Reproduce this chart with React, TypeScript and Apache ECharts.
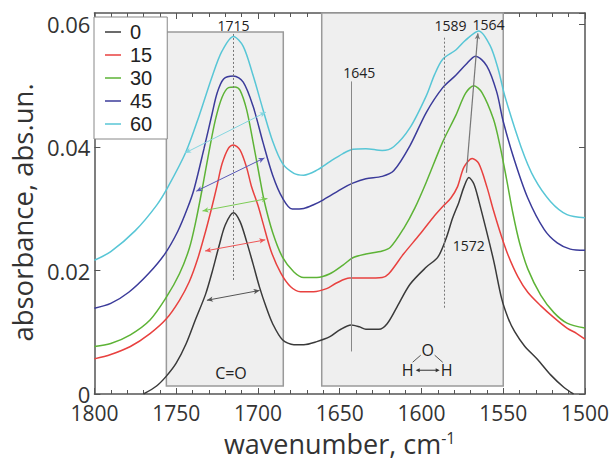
import React, { useEffect, useRef } from 'react';
import * as echarts from 'echarts';

const seriesNames = ['0', '15', '30', '45', '60'];
const seriesColors = ['#3a3a3a', '#e8413f', '#5db336', '#3b3b9a', '#58c6d6'];
const arrowColors = ['#555555', '#ee5555', '#7ccc55', '#5a5ab8', '#86d6e0'];

const xTicks = [1500, 1550, 1600, 1650, 1700, 1750, 1800];
const yTicks = [0, 0.02, 0.04, 0.06];

const s0: [number, number][] = [
  [1770, 0], [1762, 0.0013], [1756, 0.0029], [1750, 0.005], [1744, 0.0081], [1738, 0.0122],
  [1732, 0.0162], [1728, 0.0198], [1724, 0.0238], [1720, 0.0274], [1715, 0.0294], [1711, 0.028],
  [1707, 0.0248], [1703, 0.0211], [1699, 0.0173], [1695, 0.0141], [1691, 0.0114], [1685, 0.0088],
  [1678, 0.008], [1672, 0.008], [1664, 0.0085], [1656, 0.0093], [1650, 0.0104], [1643, 0.0112],
  [1638, 0.0109], [1634, 0.0105], [1626, 0.0105], [1621, 0.0114], [1615, 0.0141], [1607, 0.0178],
  [1597, 0.0206], [1590, 0.0222], [1585, 0.0252], [1581, 0.0285], [1577, 0.0312], [1574, 0.0336],
  [1571, 0.0351], [1568, 0.0341], [1565, 0.0314], [1556, 0.0218], [1551, 0.0155], [1547, 0.0123],
  [1543, 0.0101], [1537, 0.0078], [1529, 0.0056], [1521, 0.0031], [1513, 0.0011], [1507, 0],
];
const s15: [number, number][] = [
  [1800, 0.0057], [1790, 0.0064], [1778, 0.0077], [1766, 0.0098], [1756, 0.0122], [1748, 0.0152],
  [1742, 0.0182], [1737, 0.0218], [1732, 0.0264], [1728, 0.0305], [1725, 0.0338], [1722, 0.0373],
  [1718, 0.0399], [1715, 0.0404], [1711, 0.0396], [1707, 0.0368], [1704, 0.0337], [1700, 0.0306],
  [1697, 0.0278], [1692, 0.0232], [1686, 0.0196], [1680, 0.0174], [1674, 0.0166], [1666, 0.0166],
  [1658, 0.0171], [1652, 0.018], [1644, 0.0188], [1634, 0.0188], [1624, 0.0189], [1620, 0.0195],
  [1611, 0.0227], [1601, 0.0259], [1593, 0.0286], [1587, 0.0304], [1582, 0.0318], [1578, 0.0336],
  [1574, 0.0368], [1569, 0.0382], [1565, 0.0374], [1560, 0.0336], [1556, 0.0298], [1551, 0.0255],
  [1547, 0.0225], [1541, 0.019], [1535, 0.0165], [1527, 0.0143], [1519, 0.0124], [1511, 0.0107],
  [1505, 0.0098], [1500, 0.0089],
];
const s30: [number, number][] = [
  [1800, 0.0077], [1790, 0.0082], [1778, 0.0096], [1766, 0.012], [1756, 0.0157], [1748, 0.0195],
  [1742, 0.0236], [1738, 0.028], [1734, 0.0334], [1730, 0.0392], [1726, 0.0445], [1722, 0.0481],
  [1718, 0.0497], [1714, 0.0498], [1711, 0.0493], [1707, 0.0462], [1703, 0.0409], [1699, 0.0352],
  [1696, 0.0311], [1691, 0.0262], [1685, 0.0222], [1678, 0.0198], [1672, 0.0189], [1664, 0.0189],
  [1656, 0.0195], [1648, 0.0209], [1642, 0.0221], [1634, 0.0227], [1624, 0.0232], [1619, 0.0238],
  [1611, 0.0268], [1604, 0.0302], [1597, 0.0344], [1587, 0.0409], [1579, 0.0452], [1573, 0.0488],
  [1568, 0.05], [1563, 0.0489], [1556, 0.0446], [1552, 0.0403], [1548, 0.0349], [1544, 0.0292],
  [1540, 0.0245], [1535, 0.0203], [1527, 0.016], [1519, 0.0132], [1511, 0.0115], [1500, 0.0107],
];
const s45: [number, number][] = [
  [1800, 0.0139], [1790, 0.0147], [1779, 0.0165], [1767, 0.0195], [1757, 0.0227], [1749, 0.0264],
  [1743, 0.0302], [1739, 0.0333], [1733, 0.0398], [1728, 0.0455], [1725, 0.0488], [1721, 0.0511],
  [1715, 0.0516], [1709, 0.0506], [1703, 0.0467], [1697, 0.0409], [1691, 0.0355], [1685, 0.0318],
  [1679, 0.03], [1672, 0.0301], [1666, 0.0307], [1660, 0.0315], [1648, 0.0334], [1642, 0.0342],
  [1634, 0.0349], [1624, 0.0353], [1617, 0.0362], [1607, 0.0403], [1597, 0.0457], [1587, 0.0497],
  [1579, 0.0517], [1573, 0.0534], [1567, 0.0548], [1560, 0.0532], [1554, 0.049], [1550, 0.0442],
  [1543, 0.0378], [1535, 0.0318], [1525, 0.0267], [1517, 0.0245], [1509, 0.0235], [1500, 0.0233],
];
const s60: [number, number][] = [
  [1800, 0.0217], [1790, 0.0231], [1775, 0.0265], [1762, 0.0306], [1755, 0.0336], [1744, 0.0393],
  [1736, 0.0451], [1728, 0.0515], [1722, 0.0556], [1715, 0.058], [1709, 0.0564], [1703, 0.0517],
  [1697, 0.0462], [1691, 0.041], [1685, 0.0374], [1678, 0.0358], [1672, 0.0355], [1664, 0.0363],
  [1656, 0.0377], [1648, 0.039], [1642, 0.0397], [1634, 0.0398], [1624, 0.0395], [1617, 0.0401],
  [1607, 0.0432], [1597, 0.0484], [1592, 0.0518], [1587, 0.0543], [1579, 0.0558], [1573, 0.0574],
  [1565, 0.0589], [1558, 0.0565], [1553, 0.0526], [1549, 0.0483], [1539, 0.04], [1531, 0.035],
  [1521, 0.0312], [1511, 0.0291], [1500, 0.0286],
];
const seriesData = [s0, s15, s30, s45, s60];

// FWHM double arrows in the C=O band: [x1, y1, x2, y2] per series
const fwhmArrows: [number, number, number, number][] = [
  [1731.2, 0.0152, 1699, 0.0168],
  [1732.3, 0.0232, 1695.5, 0.025],
  [1733.9, 0.0297, 1694.2, 0.0317],
  [1737.7, 0.0329, 1696.0, 0.0383],
  [1744.5, 0.0391, 1695.2, 0.0457],
];

// shaded bands [xFrom, yFrom, xTo, yTo]
const bands: [number, number, number, number][] = [
  [1756, 0.0013, 1684.5, 0.0587],
  [1661, 0.0013, 1550, 0.0618],
];

// vertical marker lines [x, yFrom, yTo, dashed]
const markers: [number, number, number, boolean][] = [
  [1715, 0.0185, 0.0586, true],
  [1642.7, 0.0069, 0.0507, false],
  [1586.1, 0.014, 0.0581, true],
];

const peakLabels: { text: string; x: number; y: number }[] = [
  { text: '1715', x: 1715, y: 0.0598 },
  { text: '1645', x: 1638.1, y: 0.0521 },
  { text: '1589', x: 1582.3, y: 0.0597 },
  { text: '1564', x: 1559.0, y: 0.06 },
  { text: '1572', x: 1571.1, y: 0.0241 },
];

const FONT = "'Open Sans', 'DejaVu Sans', sans-serif";
const LEGEND_FONT = "'Liberation Sans', 'Open Sans', sans-serif";

export default function App() {
  const ref = useRef<HTMLDivElement>(null);
  useEffect(() => {
    if (!ref.current) return;
    const chart = echarts.init(ref.current, undefined, { renderer: 'svg' });
    const axisColor = '#555';
    const xAxisBase: any = {
      type: 'value',
      min: xTicks[0],
      max: xTicks[xTicks.length - 1],
      interval: 50,
      inverse: true,
      axisLine: { show: true, onZero: false, lineStyle: { color: axisColor, width: 1.5 } },
      axisTick: { show: true, inside: true, length: 6, lineStyle: { color: axisColor, width: 1 } },
      minorTick: { show: true, splitNumber: 5, length: 4, lineStyle: { color: axisColor, width: 1 } },
      splitLine: { show: false },
      minorSplitLine: { show: false },
    };
    const yAxisBase: any = {
      type: 'value',
      min: yTicks[0],
      max: 0.0618,
      interval: 0.02,
      axisLine: { show: true, onZero: false, lineStyle: { color: axisColor, width: 1.5 } },
      axisTick: { show: true, inside: true, length: 6, lineStyle: { color: axisColor, width: 1 } },
      splitLine: { show: false },
    };

    const markLineData: any[] = [];
    markers.forEach(([x, y1, y2, dashed]) => {
      markLineData.push([
        { coord: [x, y1], symbol: 'none', lineStyle: { color: dashed ? '#777' : '#888', width: 1, type: dashed ? [2, 2] : 'solid' } },
        { coord: [x, y2], symbol: 'none' },
      ]);
    });
    fwhmArrows.forEach(([x1, y1, x2, y2], i) => {
      markLineData.push([
        { coord: [x1, y1], symbol: 'arrow', symbolSize: [4, 6], lineStyle: { color: arrowColors[i], width: 1, type: 'solid' } },
        { coord: [x2, y2], symbol: 'arrow', symbolSize: [4, 6] },
      ]);
    });
    markLineData.push([
      { coord: [1572.5, 0.0359], symbol: 'none', lineStyle: { color: '#777', width: 1.2, type: 'solid' } },
      { coord: [1565.5, 0.0585], symbol: 'arrow', symbolSize: [4, 6] },
    ]);

    const option: any = {
      animation: false,
      textStyle: { fontFamily: FONT },
      grid: { left: 89, right: 29, top: 13, bottom: 64 },
      legend: {
        data: seriesNames,
        orient: 'vertical',
        left: 94,
        top: 17,
        padding: [5, 15, 5, 11],
        itemGap: 3,
        itemWidth: 16,
        itemHeight: 1.5,
        icon: 'rect',
        backgroundColor: '#fff',
        borderColor: '#888',
        borderWidth: 1,
        textStyle: { fontSize: 20, color: '#222', lineHeight: 20, padding: [0, 0, 0, 4], fontFamily: LEGEND_FONT },
      },
      xAxis: [
        {
          ...xAxisBase,
          position: 'bottom',
          axisLabel: {
            fontSize: 21,
            color: '#333',
            margin: 11,
            lineHeight: 16,
            fontFamily: FONT,
            formatter: (v: number) => String(Math.round(v)),
          },
          name: 'wavenumber, cm{sup|-1}',
          nameLocation: 'middle',
          nameGap: 36,
          nameTextStyle: {
            fontSize: 27,
            color: '#333',
            fontFamily: FONT,
            rich: { sup: { fontSize: 16, verticalAlign: 'top', color: '#333', fontFamily: FONT, padding: [0, 0, 11, 0] } },
          },
        },
        { ...xAxisBase, position: 'top', axisLabel: { show: false } },
      ],
      yAxis: [
        {
          ...yAxisBase,
          position: 'left',
          axisLabel: {
            fontSize: 22,
            color: '#333',
            margin: 4,
            lineHeight: 16,
            fontFamily: FONT,
            showMaxLabel: false,
            formatter: (v: number) => (v === 0 ? '0' : v.toFixed(2)),
          },
          name: 'absorbance, abs.un.',
          nameLocation: 'middle',
          nameGap: 46,
          nameTextStyle: { fontSize: 27.5, color: '#333', fontFamily: FONT, padding: [0, 18, 0, 0] },
        },
        { ...yAxisBase, position: 'right', axisLabel: { show: false } },
      ],
      series: [
        {
          type: 'line',
          name: 'bands',
          data: [],
          z: 1,
          silent: true,
          markArea: {
            silent: true,
            itemStyle: { color: '#efefef', borderColor: '#9a9a9a', borderWidth: 1.5 },
            data: bands.map(([x1, y1, x2, y2]) => [{ coord: [x1, y1] }, { coord: [x2, y2] }]),
          },
        },
        ...seriesData.map((d, i) => ({
          type: 'line',
          name: seriesNames[i],
          data: d,
          color: seriesColors[i],
          showSymbol: false,
          symbol: 'none',
          smooth: 0.3,
          lineStyle: { width: 1.5, color: seriesColors[i] },
          z: 3,
        })),
        {
          type: 'line',
          name: 'marks',
          data: [],
          z: 4,
          silent: true,
          markLine: {
            silent: true,
            animation: false,
            symbol: ['none', 'none'],
            label: { show: false },
            data: markLineData,
          },
        },
      ],
    };
    chart.setOption(option);

    const px = (x: number, y: number) => chart.convertToPixel({ xAxisIndex: 0, yAxisIndex: 0 }, [x, y]) as number[];
    const textStyle = (text: string, size: number) => ({
      text,
      fontSize: size,
      fill: '#222',
      fontFamily: FONT,
      align: 'center',
      verticalAlign: 'middle',
    });
    const graphics: any[] = peakLabels.map((l) => {
      const p = px(l.x, l.y);
      return { type: 'text', x: p[0], y: p[1], z: 100, style: textStyle(l.text, 14) };
    });
    const co = px(1716.5, 0.0034);
    graphics.push({ type: 'text', x: co[0], y: co[1], z: 100, style: textStyle('C=O', 16) });
    const o = px(1596.2, 0.0071);
    const ox = o[0];
    const oy = o[1];
    const lineSt = { stroke: '#555', lineWidth: 1 };
    graphics.push(
      { type: 'text', x: ox, y: oy, z: 100, style: textStyle('O', 16) },
      { type: 'text', x: ox - 20, y: oy + 20, z: 100, style: textStyle('H', 16) },
      { type: 'text', x: ox + 19, y: oy + 20, z: 100, style: textStyle('H', 16) },
      { type: 'line', z: 100, shape: { x1: ox - 15, y1: oy + 12, x2: ox - 7, y2: oy + 5 }, style: lineSt },
      { type: 'line', z: 100, shape: { x1: ox + 7, y1: oy + 5, x2: ox + 15, y2: oy + 12 }, style: lineSt },
      { type: 'line', z: 100, shape: { x1: ox - 10, y1: oy + 20, x2: ox + 10, y2: oy + 20 }, style: { stroke: '#333', lineWidth: 1 } },
      { type: 'polygon', z: 100, shape: { points: [[ox - 12, oy + 20], [ox - 8, oy + 18], [ox - 8, oy + 22]] }, style: { fill: '#333' } },
      { type: 'polygon', z: 100, shape: { points: [[ox + 12, oy + 20], [ox + 8, oy + 18], [ox + 8, oy + 22]] }, style: { fill: '#333' } },
    );
    chart.setOption({ graphic: graphics });

    return () => chart.dispose();
  }, []);
  return <div ref={ref} style={{ position: 'absolute', left: 0, top: 0, width: 614, height: 462 }} />;
}
